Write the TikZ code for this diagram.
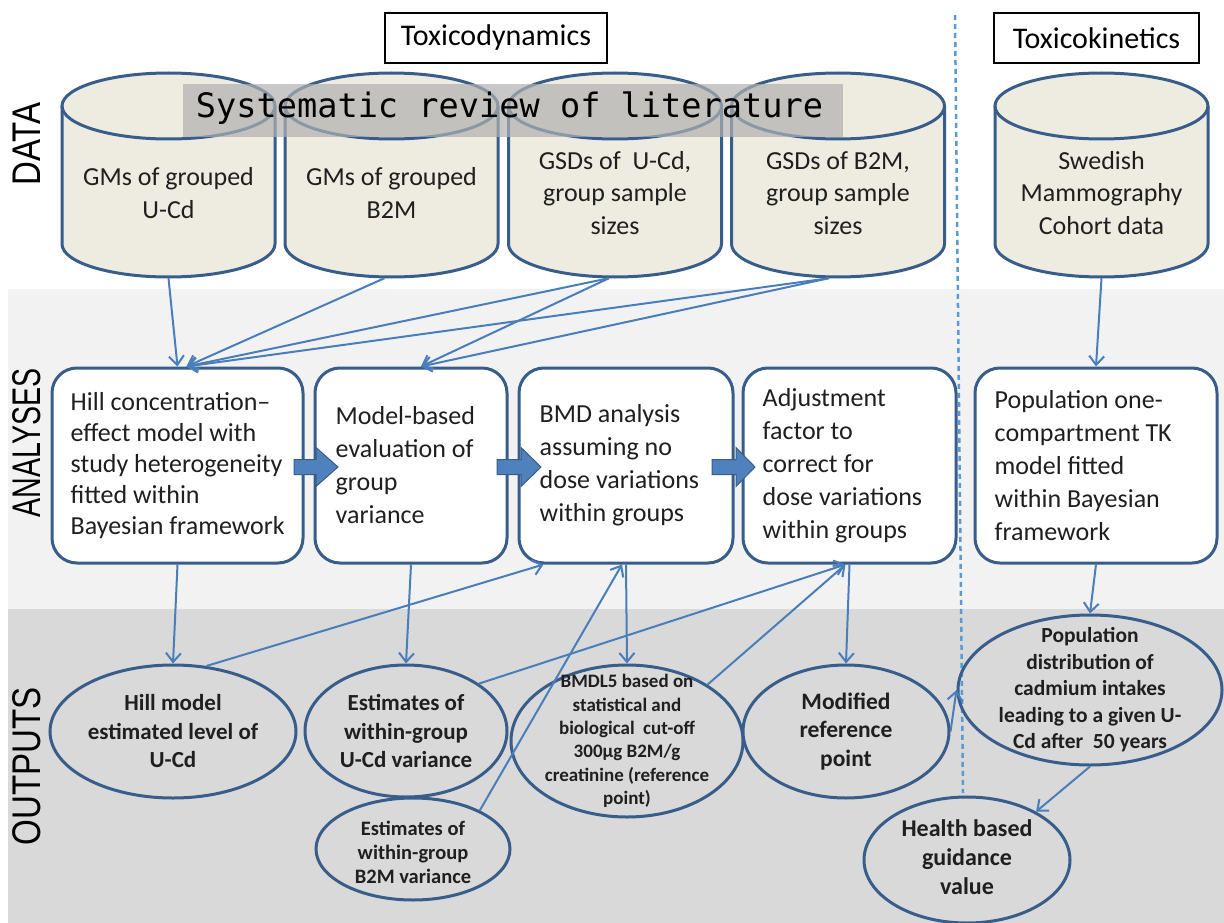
\documentclass[tikz,border=0pt]{standalone}
\usepackage{fontspec}
\usepackage{graphicx}
\setmainfont{Carlito}
\newfontfamily\monofont{DejaVu Sans Mono}
\newfontfamily\labfont{Liberation Sans}
\usetikzlibrary{arrows.meta,calc,shapes.geometric}
\definecolor{cylfill}{HTML}{EEECE1}
\definecolor{shapeline}{HTML}{385D8A}
\definecolor{connc}{HTML}{4A7EBB}
\definecolor{arrowfill}{HTML}{4F81BD}
\definecolor{bandA}{HTML}{F2F2F2}
\definecolor{bandO}{HTML}{D9D9D9}
\definecolor{divc}{HTML}{5B9BD5}
\definecolor{txt}{HTML}{1F1F1F}
\newcommand{\blkarrow}[4]{%
  \draw[blockarrow] (#1,#4-7.5) -- (#2,#4-7.5) -- (#2,#4-19.5) -- (#3,#4) -- (#2,#4+19.5) -- (#2,#4+7.5) -- (#1,#4+7.5) -- cycle;}
\begin{document}
\begin{tikzpicture}[x=1pt,y=-1pt,
  cylline/.style={draw=shapeline,line width=3pt},
  cyltext/.style={align=center,font=\fontsize{26}{32.5}\selectfont,text=txt,minimum height=170pt,inner sep=0pt},
  abox/.style={draw=shapeline,line width=3pt,fill=white,rounded corners=25pt,minimum height=195pt,inner sep=0pt},
  atext/.style={align=left,anchor=west,font=\fontsize{26}{33}\selectfont,text=txt,inner sep=0pt},
  oell/.style={ellipse,draw=shapeline,line width=3pt,inner sep=0pt},
  otext/.style={align=center,text=txt,inner sep=0pt},
  conn/.style={draw=connc,line width=2pt,-{Straight Barb[length=9pt,width=15pt]}},
  blockarrow/.style={fill=arrowfill,draw=shapeline,line width=1pt},
  titlebox/.style={draw=black,line width=2pt,fill=white,minimum height=50pt,font=\fontsize{30}{36}\selectfont},
  sidelabel/.style={rotate=90,font=\labfont\fontsize{40}{48}\selectfont,inner sep=0pt}
]
\useasboundingbox (0,0) rectangle (1224,923);
% bands
\fill[bandA] (8,289) rectangle (1224,609);
\fill[bandO] (8,609) rectangle (1224,923);
% divider
\draw[divc,line width=2.5pt,dash pattern=on 5pt off 4pt] (955,15) -- (963,793);
% cylinders
\foreach \cx in {168.5,391.5,615,838,1101.5} {
  \fill[cylfill] (\cx-106.5,106) -- (\cx-106.5,244) arc[start angle=180,delta angle=-180,x radius=106.5,y radius=33] -- (\cx+106.5,106) arc[start angle=0,delta angle=-180,x radius=106.5,y radius=33] -- cycle;
  \draw[cylline] (\cx-106.5,106) -- (\cx-106.5,244) arc[start angle=180,delta angle=-180,x radius=106.5,y radius=33] -- (\cx+106.5,106);
  \draw[cylline] (\cx,106) ellipse[x radius=106.5,y radius=33];
}
\node[cyltext] (c1) at (168.5,193) {GMs of grouped\\U-Cd};
\node[cyltext] (c2) at (391.5,193) {GMs of grouped\\B2M};
\node[cyltext] (c3) at (615,193) {GSDs of \ U-Cd,\\group sample\\sizes};
\node[cyltext] (c4) at (838,193) {GSDs of B2M,\\group sample\\sizes};
\node[cyltext] (c5) at (1101.5,193) {Swedish\\Mammography\\Cohort data};
% banner
\fill[black!31,opacity=0.7] (183,84) rectangle (843,137);
\node[font=\monofont\fontsize{33.6}{40}\selectfont,inner sep=0pt] (banner) at (509.5,108) {Systematic review of literature};
% titles
\node[titlebox,minimum width=222pt] (td) at (496,38) {Toxicodynamics};
\node[titlebox,minimum width=205pt] (tk) at (1096.5,38) {Toxicokinetics};
% analysis boxes
\node[abox,minimum width=251pt] (b1) at (177.5,465.5) {};
\node[abox,minimum width=192pt] (b2) at (411,465.5) {};
\node[abox,minimum width=214pt] (b3) at (626,465.5) {};
\node[abox,minimum width=213pt] (b4) at (849.5,465.5) {};
\node[abox,minimum width=242pt] (b5) at (1096,465.5) {};
\node[atext,font=\fontsize{26}{31}\selectfont] (b1t) at ([xshift=20pt]b1.west) {Hill concentration–\\effect model with\\study heterogeneity\\fitted within\\Bayesian framework};
\node[atext] (b2t) at ([xshift=22pt]b2.west) {Model-based\\evaluation of\\group\\variance};
\node[atext] (b3t) at ([xshift=22pt]b3.west) {BMD analysis\\assuming no\\dose variations\\within groups};
\node[atext] (b4t) at ([xshift=21pt]b4.west) {Adjustment\\factor to\\correct for\\dose variations\\within groups};
\node[atext] (b5t) at ([xshift=21pt]b5.west) {Population one-\\compartment TK\\model fitted\\within Bayesian\\framework};
% output ellipses
\node[oell,minimum width=246pt,minimum height=133pt] (e1) at (173,731.5) {};
\node[oell,minimum width=202pt,minimum height=132pt] (e2) at (406,731) {};
\node[oell,minimum width=194pt,minimum height=102pt] (e3) at (413,849) {};
\node[oell,minimum width=232pt,minimum height=152pt] (e4) at (627,741) {};
\node[oell,minimum width=206pt,minimum height=133pt] (e5) at (846,731.5) {};
\node[oell,minimum width=264pt,minimum height=150pt] (e6) at (1090,690) {};
\node[oell,minimum width=206pt,minimum height=126pt] (e7) at (967,860) {};
\node[otext,font=\bfseries\fontsize{23}{28.5}\selectfont] (e1t) at (e1.center) {Hill model\\estimated level of\\U-Cd};
\node[otext,font=\bfseries\fontsize{23}{28.5}\selectfont] (e2t) at (e2.center) {Estimates of\\within-group\\U-Cd variance};
\node[otext,font=\bfseries\fontsize{20.5}{24}\selectfont] (e3t) at ([yshift=-3pt]e3.center) {Estimates of\\within-group\\B2M variance};
\node[otext,font=\bfseries\fontsize{19}{23.4}\selectfont] (e4t) at (e4.center) {BMDL5 based on\\statistical and\\biological \ cut-off\\300µg B2M/g\\creatinine (reference\\point)};
\node[otext,font=\bfseries\fontsize{23.5}{28.5}\selectfont] (e5t) at (e5.center) {Modified\\reference\\point};
\node[otext,font=\bfseries\fontsize{21.5}{26.5}\selectfont] (e6t) at (e6.center) {Population\\distribution of\\cadmium intakes\\leading to a given U-\\Cd after \ 50 years};
\node[otext,font=\bfseries\fontsize{24}{29}\selectfont] (e7t) at ([yshift=3pt]e7.center) {Health based\\guidance\\value};
% connectors
\draw[conn] (c1.south) -- (b1.north);
\draw[conn] ([xshift=-7pt]c2.south) -- ([xshift=9pt]b1.north);
\draw[conn] ([xshift=-6pt]c3.south) -- ([xshift=9pt]b1.north);
\draw[conn] ([xshift=-9pt]c4.south) -- ([xshift=9pt]b1.north);
\draw[conn] ([xshift=-6pt]c3.south) -- ([xshift=10pt]b2.north);
\draw[conn] ([xshift=-9pt]c4.south) -- ([xshift=10pt]b2.north);
\draw[conn] (c5.south) -- (b5.north);
\draw[conn] (b1.south) -- (e1.north);
\draw[conn] (b2.south) -- (e2.north);
\draw[conn] (b3.south) -- (e4.north);
\draw[conn] (b4.south) -- (e5.north);
\draw[conn] (b5.south) -- (e6.north);
\draw[conn] (e1.63) -- ([xshift=26pt]b3.south west);
\draw[conn] (e2.33) -- ([xshift=-4pt]b4.south);
\draw[conn] (e4.35) -- ([xshift=-4pt]b4.south);
\draw[conn] (e3.30) -- ([xshift=-4pt]b3.south);
\draw[conn] (e5.east) -- (e6.west);
\draw[conn] (e6.south) -- (e7.35);
% block arrows
\blkarrow{294}{316}{338}{467}
\blkarrow{497}{521}{541}{467}
\blkarrow{712}{736}{755}{467}
% side labels
\node[sidelabel] (ldata) at (27,144) {\scalebox{0.825}[1]{DATA}};
\node[sidelabel] (lana) at (27,443) {\scalebox{0.715}[1]{ANALYSES}};
\node[sidelabel] (lout) at (27,766) {\scalebox{0.827}[1]{OUTPUTS}};
\end{tikzpicture}
\end{document}
